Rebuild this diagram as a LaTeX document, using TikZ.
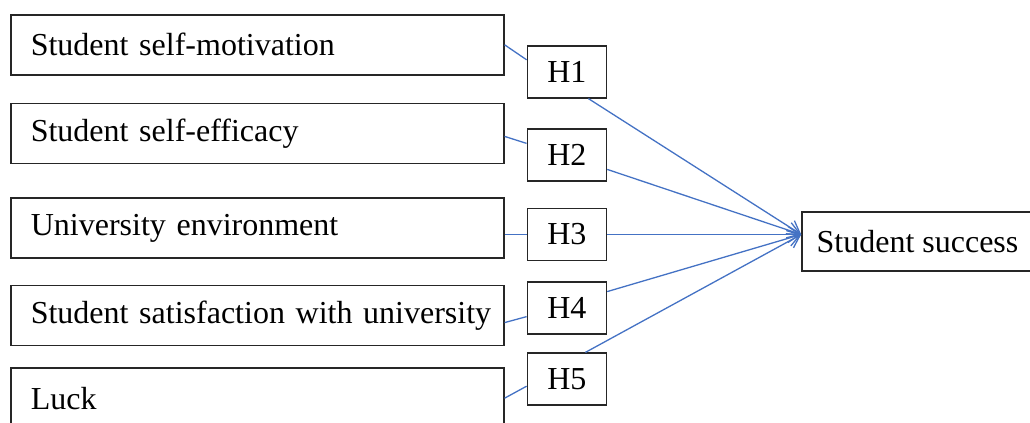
\documentclass[tikz,border=0pt]{standalone}
\usepackage{fontspec}
\setmainfont{Liberation Serif}
\usetikzlibrary{positioning,arrows.meta}
\definecolor{linkblue}{RGB}{68,114,196}

\begin{document}
\begin{tikzpicture}[
  factor/.style={rectangle, draw=black!85, line width=0.8pt, minimum height=30pt,
    text width=240pt, inner xsep=3.25pt, align=left, font=\fontsize{16}{19}\selectfont,
    execute at begin node={\hspace*{6.75pt}}},
  hyp/.style={rectangle, draw=black!85, line width=0.8pt, minimum width=39.5pt,
    minimum height=26pt, inner sep=0pt, font=\fontsize{16}{19}\selectfont},
  link/.style={draw=linkblue, line width=0.65pt},
  >={Straight Barb[length=6pt,width=8pt]}
]
\clip (0,0) rectangle (515pt,-211.5pt);

\node [factor, anchor=north west] (motiv) at (5pt,-7pt) {Student self-motivation};
\node [factor] (effic) [below=13.5pt of motiv] {Student self-efficacy};
\node [factor] (env) [below=16.5pt of effic] {University environment};
\node [factor] (satis) [below=13pt of env] {Student satisfaction with university};
\node [factor] (luck) [below=10.5pt of satis] {Luck};

\node [hyp] (h1) [right=11pt of motiv, yshift=-13.5pt] {H1};
\node [hyp] (h2) [right=11pt of effic, yshift=-10.75pt] {H2};
\node [hyp] (h3) [right=11pt of env, yshift=-3.25pt] {H3};
\node [hyp] (h4) [right=11pt of satis, yshift=3.75pt] {H4};
\node [hyp] (h5) [right=11pt of luck, yshift=9.5pt] {H5};

\node [hyp, minimum width=115.5pt, minimum height=29.5pt] (succ) [right=97pt of h3, yshift=-3.5pt] {Student success};
\coordinate (tip) at (succ.west |- h3.east);

% factors to hypotheses
\draw [link] (motiv.east) -- ([yshift=6pt]h1.west);
\draw [link] ([yshift=-1.5pt]effic.east) -- ([yshift=5.75pt]h2.west);
\draw [link] (env.east |- h3.west) -- (h3.west);
\draw [link] ([yshift=-3.5pt]satis.east) -- ([yshift=-4.25pt]h4.west);
\draw [link] (luck.east) -- ([yshift=-3.5pt]h5.west);

% hypotheses to success
\draw [link, ->] ([xshift=10.75pt]h1.south) -- (tip);
\draw [link, ->] ([yshift=-7.25pt]h2.east) -- (tip);
\draw [link, ->] (h3.east) -- (tip);
\draw [link, ->] ([yshift=8.25pt]h4.east) -- (tip);
\draw [link, ->] ([xshift=9.25pt]h5.north) -- (tip);

\end{tikzpicture}
\end{document}
